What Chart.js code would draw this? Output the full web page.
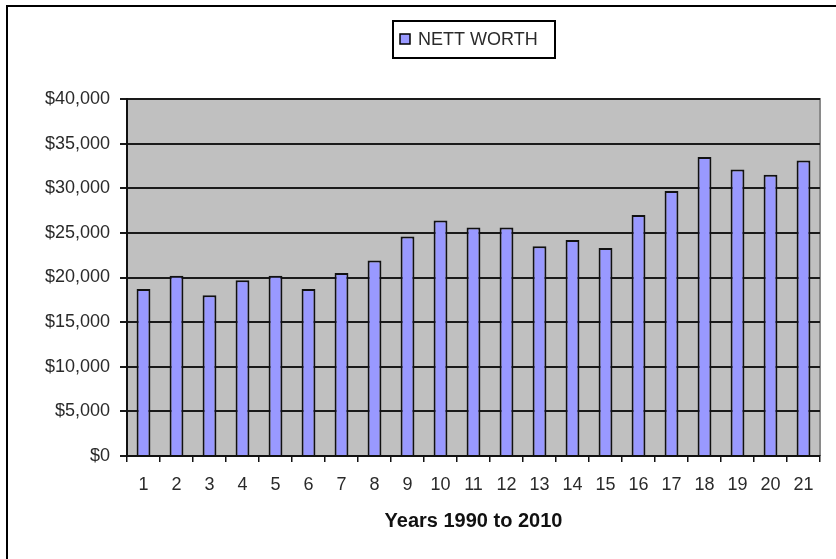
<!DOCTYPE html>
<html>
<head>
<meta charset="utf-8">
<title>Nett Worth</title>
<script src="https://cdn.jsdelivr.net/npm/chart.js@4/dist/chart.umd.min.js"></script>
<style>
  html, body { margin: 0; padding: 0; background: #fff; }
  canvas { display: block; }
</style>
</head>
<body>
<canvas id="worth-chart" width="836" height="559"></canvas>
<script>
// Chart data
const years = ['1', '2', '3', '4', '5', '6', '7', '8', '9', '10', '11',
               '12', '13', '14', '15', '16', '17', '18', '19', '20', '21'];
const nettWorth = [18700, 20200, 18000, 19700, 20200, 18700, 20500, 21900, 24600, 26400, 25600,
                   25600, 23500, 24200, 23300, 27000, 29700, 33500, 32100, 31500, 33100];
const seriesName = 'NETT WORTH';
const axisTitle = 'Years 1990 to 2010';
const yMin = 0;
const yMax = 40000;
const yStep = 5000;

const barFill = '#9999ff';
const textColor = '#2a2a2a';

Chart.defaults.font.family = '"Liberation Sans", Arial, sans-serif';
Chart.defaults.color = textColor;

// Grey plot area, outer frame and the boxed legend
const decorations = {
    id: 'decorations',
    beforeDraw(chart) {
        const { ctx, chartArea: a } = chart;
        ctx.save();
        ctx.fillStyle = '#c0c0c0';
        ctx.fillRect(a.left, a.top, a.right - a.left, a.bottom - a.top);
        ctx.strokeStyle = '#8a8a8a';
        ctx.lineWidth = 2;
        ctx.beginPath();
        ctx.moveTo(a.left, a.top);
        ctx.lineTo(a.right, a.top);
        ctx.lineTo(a.right, a.bottom);
        ctx.stroke();

        // outer frame (left and top only are visible)
        ctx.strokeStyle = '#000';
        ctx.lineWidth = 2;
        ctx.beginPath();
        ctx.moveTo(7, chart.height);
        ctx.lineTo(7, 6);
        ctx.lineTo(chart.width, 6);
        ctx.stroke();
        ctx.restore();
    },
    afterDraw(chart) {
        const { ctx } = chart;
        const ds = chart.data.datasets[0];
        ctx.save();
        ctx.strokeStyle = '#000';
        ctx.lineWidth = 2;
        ctx.strokeRect(393, 21, 162, 37);
        ctx.fillStyle = ds.backgroundColor;
        ctx.fillRect(400, 34, 10, 10);
        ctx.lineWidth = 1.5;
        ctx.strokeRect(400, 34, 10, 10);
        ctx.fillStyle = textColor;
        ctx.font = '18px "Liberation Sans", Arial, sans-serif';
        ctx.textBaseline = 'middle';
        ctx.fillText(ds.label, 418, 40);
        ctx.restore();
    }
};

const ctx = document.getElementById('worth-chart').getContext('2d');
const chart = new Chart(ctx, {
    type: 'bar',
    data: {
        labels: years,
        datasets: [{
            label: seriesName,
            data: nettWorth,
            backgroundColor: barFill,
            borderColor: '#111',
            borderWidth: 2,
            borderSkipped: 'bottom',
            categoryPercentage: 1,
            barPercentage: 0.42
        }]
    },
    options: {
        responsive: false,
        animation: false,
        events: [],
        layout: {
            padding: { top: 99, right: 16, bottom: 0, left: 0 }
        },
        plugins: {
            legend: { display: false },
            tooltip: { enabled: false }
        },
        scales: {
            x: {
                offset: true,
                grid: {
                    offset: true,
                    drawOnChartArea: false,
                    drawTicks: true,
                    tickLength: 6,
                    color: '#111',
                    lineWidth: 1.5
                },
                border: { color: '#111', width: 2 },
                ticks: {
                    padding: 12,
                    maxRotation: 0,
                    autoSkip: false,
                    font: { size: 18 },
                    color: textColor
                },
                title: {
                    display: true,
                    text: axisTitle,
                    font: { size: 20, weight: 'bold' },
                    color: '#111',
                    padding: { top: 0, bottom: 26 }
                },
                afterFit(scale) { scale.height = 103; }
            },
            y: {
                min: yMin,
                max: yMax,
                grid: {
                    color: '#1a1a1a',
                    lineWidth: 2,
                    tickLength: 7
                },
                border: { color: '#111', width: 2 },
                ticks: {
                    stepSize: yStep,
                    padding: 10,
                    font: { size: 18 },
                    color: textColor,
                    callback: (v) => '$' + v.toLocaleString('en-US')
                },
                afterFit(scale) { scale.width = 127; }
            }
        }
    },
    plugins: [decorations]
});
</script>
</body>
</html>
